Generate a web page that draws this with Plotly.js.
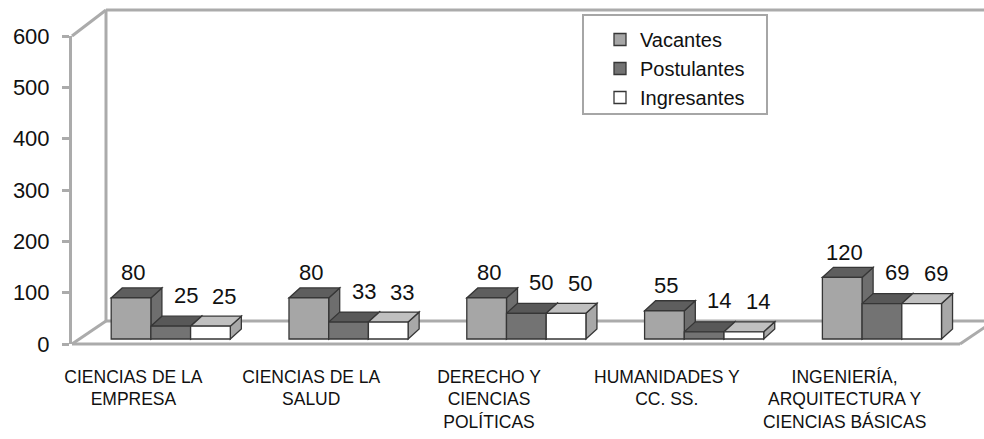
<!DOCTYPE html>
<html>
<head>
<meta charset="utf-8">
<script src="https://cdn.plot.ly/plotly-3.0.1.min.js"></script>
<style>html,body{margin:0;padding:0;background:#fff}#chart{width:984px;height:439px}</style>
</head>
<body>
<div id="chart"></div>
<script>
// ---- data ----
const categories = ['CIENCIAS DE LA<br>EMPRESA', 'CIENCIAS DE LA<br>SALUD', 'DERECHO Y<br>CIENCIAS<br>POLÍTICAS', 'HUMANIDADES Y<br>CC. SS.', 'INGENIERÍA,<br>ARQUITECTURA Y<br>CIENCIAS BÁSICAS'];
const seriesNames = ['Vacantes', 'Postulantes', 'Ingresantes'];
const vacantes = [80, 80, 80, 55, 120];
const postulantes = [25, 33, 50, 14, 69];
const ingresantes = [25, 33, 50, 14, 69];
const yTicks = [0, 100, 200, 300, 400, 500, 600];

// ---- styling / geometry ----
const idx = categories.map((c, i) => i);
const W = 0.2233;               // bar width (category units)
const OFFS = [-0.335, -0.1117, 0.1117];
const DX = 0.062, DY = 19.5;    // 3D depth
const FRONT = ['#a6a6a6', '#737373', '#ffffff'];
const TOP = ['#5e5e5e', '#585858', '#c0c0c0'];
const SIDE = ['#6e6e6e', '#5a5a5a', '#a8a8a8'];
const EDGE = '#363636';
const LBL_X = [2, 15, 14], LBL_Y = [25, 31, 30];
const WALL = '#ababab';
const values = [vacantes, postulantes, ingresantes];

const L = 72, R = 960, T = 36, B = 344;
const px = v => (v - L) / (R - L);
const py = v => (B - v) / (B - T);

const traces = [{type: 'scatter', x: [], y: [], yaxis: 'y', showlegend: false, hoverinfo: 'skip'}].concat(
  values.map((vals, s) => ({
    type: 'bar', name: seriesNames[s], x: idx, y: vals, yaxis: 'y2',
    width: W, offset: OFFS[s],
    marker: {color: FRONT[s], line: {color: EDGE, width: 1.3}},
    hoverinfo: 'skip', legendgroup: 'g' + s
  })));

const shapes = [];
function wline(x0, y0, x1, y1) {
  shapes.push({type: 'line', xref: 'paper', yref: 'paper', x0: px(x0), y0: py(y0), x1: px(x1), y1: py(y1),
    line: {color: WALL, width: 3}, layer: 'below'});
}
wline(72, 344, 960, 344);
wline(960, 344, 994, 321);
wline(106, 321, 994, 321);
wline(72, 344, 106, 321);
wline(72, 36, 106, 10);
wline(106, 10, 106, 321);
wline(106, 10, 994, 10);

idx.forEach(i => {
  values.forEach((vals, s) => {
    const v = vals[i];
    const x0 = i + OFFS[s], x1 = x0 + W;
    shapes.push({type: 'path', xref: 'x', yref: 'y2', layer: 'below',
      path: `M${x1},0 L${x1},${v} L${x1 + DX},${v + DY} L${x1 + DX},${DY} Z`,
      fillcolor: SIDE[s], line: {color: EDGE, width: 1.3}});
    shapes.push({type: 'path', xref: 'x', yref: 'y2', layer: 'below',
      path: `M${x0},${v} L${x1},${v} L${x1 + DX},${v + DY} L${x0 + DX},${v + DY} Z`,
      fillcolor: TOP[s], line: {color: EDGE, width: 1.3}});
  });
});
// legend frame
shapes.push({type: 'rect', xref: 'paper', yref: 'paper', x0: px(583), y0: py(15), x1: px(767), y1: py(114),
  line: {color: '#a6a6a6', width: 2}, fillcolor: 'rgba(0,0,0,0)'});

const annotations = [];
values.forEach((vals, s) => {
  vals.forEach((v, i) => {
    annotations.push({xref: 'x', yref: 'y2', x: i + OFFS[s] + W / 2, y: v, text: String(v),
      showarrow: false, xanchor: 'center', yanchor: 'middle', xshift: LBL_X[s], yshift: LBL_Y[s],
      font: {family: 'Liberation Sans, Arial, sans-serif', size: 22, color: '#111'}});
  });
});

const layout = {
  width: 984, height: 439,
  margin: {l: L, r: 984 - R, t: T, b: 439 - B},
  paper_bgcolor: '#fff', plot_bgcolor: 'rgba(0,0,0,0)',
  barmode: 'overlay', showlegend: true,
  font: {family: 'Liberation Sans, Arial, sans-serif', color: '#111'},
  xaxis: {range: [(L - 170.75) / 177.8, (R - 170.75) / 177.8], tickvals: idx.map(i => i - 0.21), ticktext: categories,
    showgrid: false, zeroline: false, showline: false, ticks: '', ticklabelstandoff: 20,
    tickfont: {family: 'Liberation Sans, Arial, sans-serif', size: 17.5, color: '#111'}},
  yaxis: {range: [0, 600], tickvals: yTicks, showgrid: false, zeroline: false,
    showline: true, linecolor: WALL, linewidth: 3, ticks: 'outside', ticklen: 7, tickwidth: 3, tickcolor: WALL,
    ticklabelstandoff: 8, tickfont: {size: 22, color: '#111'}},
  yaxis2: {range: [-9.74, 590.26], overlaying: 'y', visible: false},
  legend: {x: px(600), y: py(20), xanchor: 'left', yanchor: 'top', bgcolor: 'rgba(0,0,0,0)', borderwidth: 0,
    font: {size: 20, color: '#111'}, traceorder: 'normal'},
  shapes: shapes, annotations: annotations
};
Plotly.newPlot('chart', traces, layout, {displayModeBar: false, staticPlot: true});
</script>
</body>
</html>
